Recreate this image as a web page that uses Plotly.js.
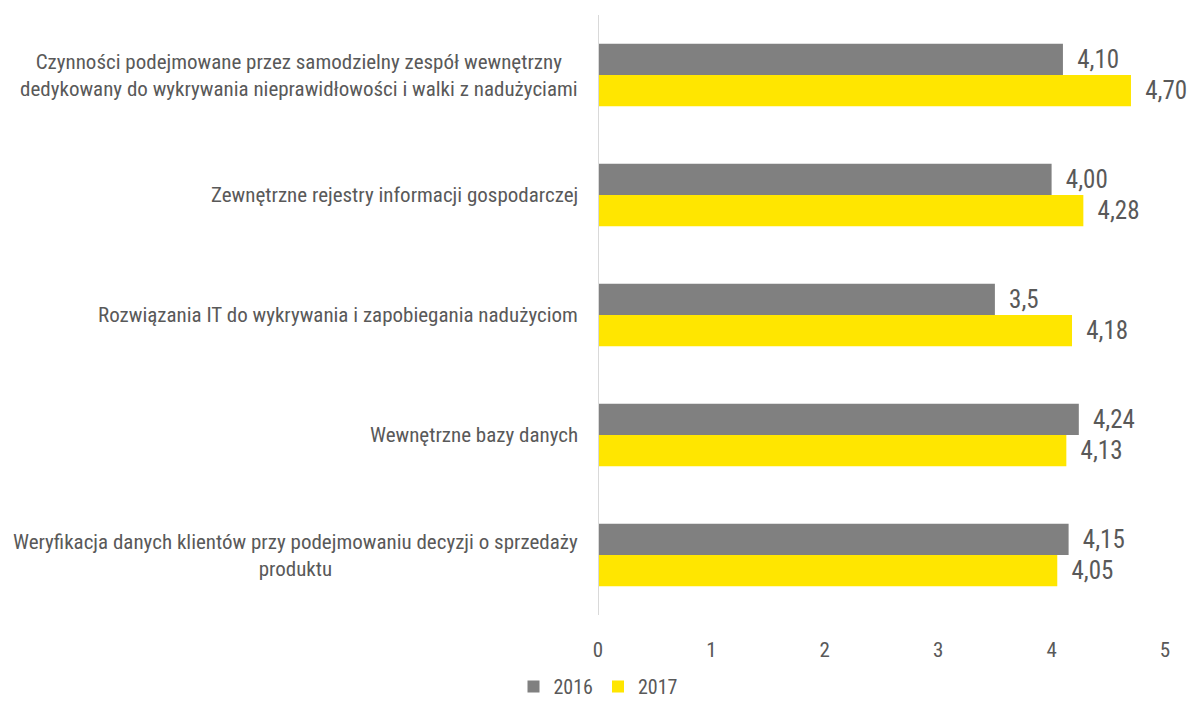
<!DOCTYPE html>
<html>
<head>
<meta charset="utf-8">
<script src="https://cdn.plot.ly/plotly-3.0.1.min.js"></script>
<style>
  html, body { margin: 0; padding: 0; background: #ffffff; }
  #chart { width: 1195px; height: 706px; }
</style>
</head>
<body>
<div id="chart"></div>
<script>
// Categories, top to bottom
const categories = [
  "Czynności podejmowane przez samodzielny zespół wewnętrzny<br>dedykowany do wykrywania nieprawidłowości i walki z nadużyciami",
  "Zewnętrzne rejestry informacji gospodarczej",
  "Rozwiązania IT do wykrywania i zapobiegania nadużyciom",
  "Wewnętrzne bazy danych",
  "Weryfikacja danych klientów przy podejmowaniu decyzji o sprzedaży<br>produktu"
];

const values2016 = [4.10, 4.00, 3.5, 4.24, 4.15];
const values2017 = [4.70, 4.28, 4.18, 4.13, 4.05];

const labels2016 = ["4,10", "4,00", "3,5", "4,24", "4,15"];
const labels2017 = ["4,70", "4,28", "4,18", "4,13", "4,05"];

const xTicks = [0, 1, 2, 3, 4, 5];

const FONT = "'Roboto Condensed', 'Liberation Sans Narrow', 'DejaVu Sans Condensed', Roboto, sans-serif";
const TEXT_COLOR = "#595959";

// a leading space keeps the value labels a little away from the bar ends
const pad = s => "\u2002" + s;

const traces = [
  {
    type: "bar",
    orientation: "h",
    name: "2016",
    y: categories,
    x: values2016,
    text: labels2016.map(pad),
    textposition: "outside",
    cliponaxis: false,
    textfont: { family: FONT, size: 25, color: TEXT_COLOR },
    marker: { color: "#808080" },
    hoverinfo: "skip"
  },
  {
    type: "bar",
    orientation: "h",
    name: "2017",
    y: categories,
    x: values2017,
    text: labels2017.map(pad),
    textposition: "outside",
    cliponaxis: false,
    textfont: { family: FONT, size: 25, color: TEXT_COLOR },
    marker: { color: "#FFE600" },
    hoverinfo: "skip"
  }
];

// category labels: right edge against the axis, lines centred on each other
const catAnnotations = categories.map(c => ({
  xref: "paper",
  yref: "y",
  x: 0,
  y: c,
  xanchor: "right",
  yanchor: "middle",
  xshift: -18,
  align: "center",
  showarrow: false,
  text: c,
  font: { family: FONT, size: 21, color: TEXT_COLOR }
}));

const layout = {
  width: 1195,
  height: 706,
  paper_bgcolor: "#ffffff",
  plot_bgcolor: "#ffffff",
  margin: { l: 598, r: 30, t: 15, b: 91 },
  barmode: "group",
  bargap: 0.48,
  bargroupgap: 0,
  font: { family: FONT, color: TEXT_COLOR },
  xaxis: {
    range: [0, 5],
    tickvals: xTicks,
    ticktext: xTicks.map(String),
    showgrid: false,
    zeroline: false,
    showline: false,
    ticks: "",
    ticklabelstandoff: 20,
    tickfont: { family: FONT, size: 21, color: TEXT_COLOR },
    automargin: false,
    fixedrange: true
  },
  yaxis: {
    type: "category",
    autorange: "reversed",
    showticklabels: false,
    showgrid: false,
    zeroline: false,
    showline: false,
    ticks: "",
    automargin: false,
    fixedrange: true
  },
  shapes: [
    {
      type: "line",
      xref: "x",
      yref: "paper",
      x0: 0, x1: 0, y0: 0, y1: 1,
      line: { color: "#d9d9d9", width: 2 }
    }
  ],
  annotations: catAnnotations,
  showlegend: true,
  legend: {
    orientation: "h",
    xref: "paper",
    yref: "container",
    x: 0.0,
    xanchor: "center",
    y: 0.0,
    yanchor: "bottom",
    font: { family: FONT, size: 20, color: TEXT_COLOR },
    itemwidth: 30,
    tracegroupgap: 0
  }
};

Plotly.newPlot("chart", traces, layout, { displayModeBar: false, staticPlot: true });
</script>
</body>
</html>
